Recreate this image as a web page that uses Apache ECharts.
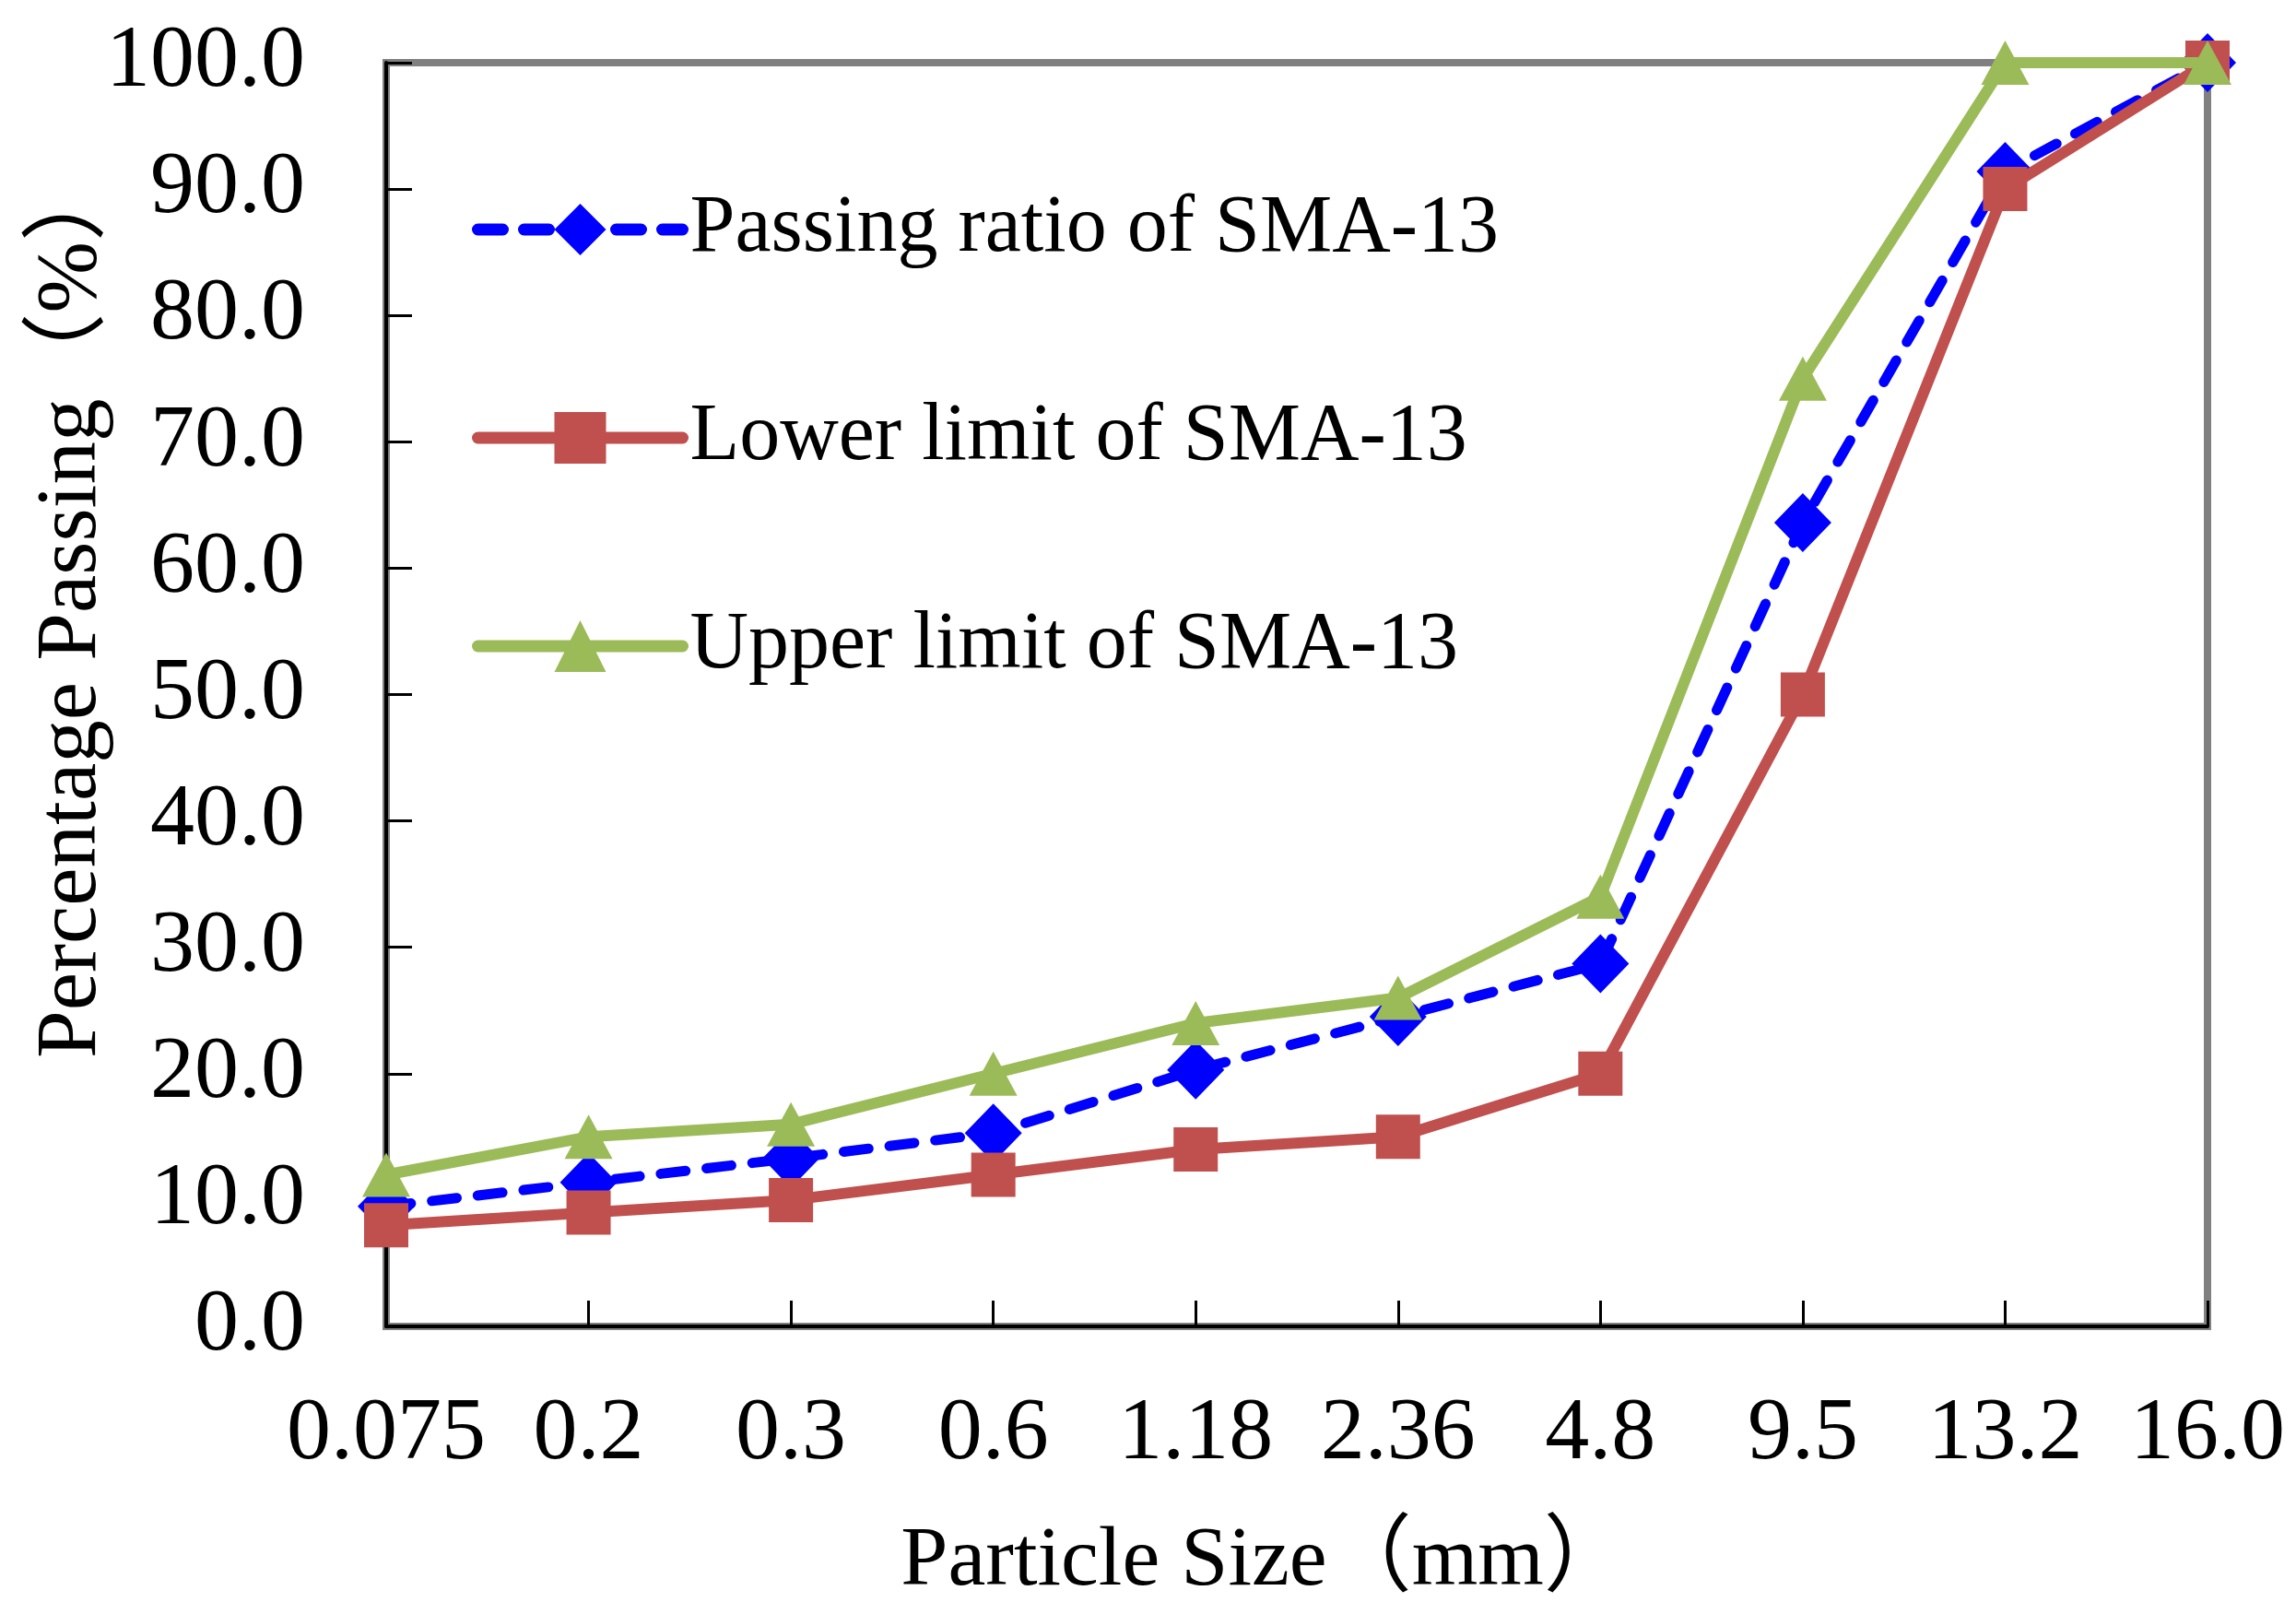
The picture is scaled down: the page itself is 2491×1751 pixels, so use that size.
<!DOCTYPE html>
<html>
<head>
<meta charset="utf-8">
<script src="https://cdn.jsdelivr.net/npm/echarts@6/dist/echarts.min.js"></script>
<style>
html, body { margin: 0; padding: 0; background: #fff; }
#chart { width: 2491px; height: 1751px; }
</style>
</head>
<body>
<div id="chart"></div>
<script>
// sieve sizes (mm)
var sizes = ['0.075', '0.2', '0.3', '0.6', '1.18', '2.36', '4.8', '9.5', '13.2', '16.0']
// percentage passing
var passing = [9.5, 11.4, 13.3, 15.3, 20.3, 24.5, 28.7, 63.6, 91.4, 100]
var lower = [8, 9, 10, 12, 14, 15, 20, 50, 90, 100]
var upper = [12, 15, 16, 20, 24, 26, 34, 75, 100, 100]
var names = ['Passing ratio of SMA-13', 'Lower limit of SMA-13', 'Upper limit of SMA-13']

var serif = "'Liberation Serif', 'Noto Sans CJK SC', serif"

var chart = echarts.init(document.getElementById('chart'))
var option = {
	backgroundColor: '#fff',
	animation: false,
	grid: {
		left: 419, right: 96, top: 68, bottom: 312,
		show: true, borderColor: '#808080', borderWidth: 8, backgroundColor: 'transparent'
	},
	legend: {
		orient: 'vertical',
		left: 507,
		top: 200,
		itemWidth: 222,
		itemHeight: 70,
		itemGap: 138,
		data: names,
		lineStyle: { width: 13 },
		textStyle: {
			fontFamily: serif, fontSize: 88, color: '#000',
			lineHeight: 70, padding: [0, 0, 0, 3]
		}
	},
	xAxis: {
		type: 'category',
		data: sizes,
		boundaryGap: false,
		name: 'Particle Size（mm）',
		nameLocation: 'middle',
		nameGap: 210,
		nameMoveOverlap: false,
		nameTextStyle: { fontFamily: serif, fontSize: 92, color: '#000', padding: [0, 70, 0, 0] },
		axisLine: { lineStyle: { color: '#000', width: 4 } },
		axisTick: { inside: true, interval: 0, length: 28, lineStyle: { color: '#000', width: 3 } },
		axisLabel: { fontFamily: serif, fontSize: 96, color: '#000', margin: 70, interval: 0 },
		splitLine: { show: false }
	},
	yAxis: {
		type: 'value',
		min: 0, max: 100, interval: 10,
		name: 'Percentage Passing（%）',
		nameLocation: 'middle',
		nameGap: 294,
		nameMoveOverlap: false,
		nameTextStyle: { fontFamily: serif, fontSize: 93, color: '#000', padding: [0, 0, 0, 190] },
		axisLine: { show: true, lineStyle: { color: '#000', width: 4 } },
		axisTick: { show: true, inside: true, length: 28, lineStyle: { color: '#000', width: 3 } },
		axisLabel: {
			fontFamily: serif, fontSize: 96, color: '#000', margin: 88,
			formatter: function (v) { return v.toFixed(1) }
		},
		splitLine: { show: false }
	},
	series: [
		{
			name: names[0], type: 'line', data: passing, clip: false,
			symbol: 'diamond', symbolSize: [62, 64],
			itemStyle: { color: '#0000FF' },
			lineStyle: { color: '#0000FF', width: 11, type: [27, 23], cap: 'round' },
			z: 2
		},
		{
			name: names[1], type: 'line', data: lower, clip: false,
			symbol: 'rect', symbolSize: [48, 48],
			itemStyle: { color: '#C0504D' },
			lineStyle: { color: '#C0504D', width: 12, cap: 'round' },
			z: 3
		},
		{
			name: names[2], type: 'line', data: upper, clip: false,
			symbol: 'triangle', symbolSize: [52, 48],
			itemStyle: { color: '#9BBB59' },
			lineStyle: { color: '#9BBB59', width: 12, cap: 'round' },
			z: 4
		}
	]
}
chart.setOption(option)
</script>
</body>
</html>
